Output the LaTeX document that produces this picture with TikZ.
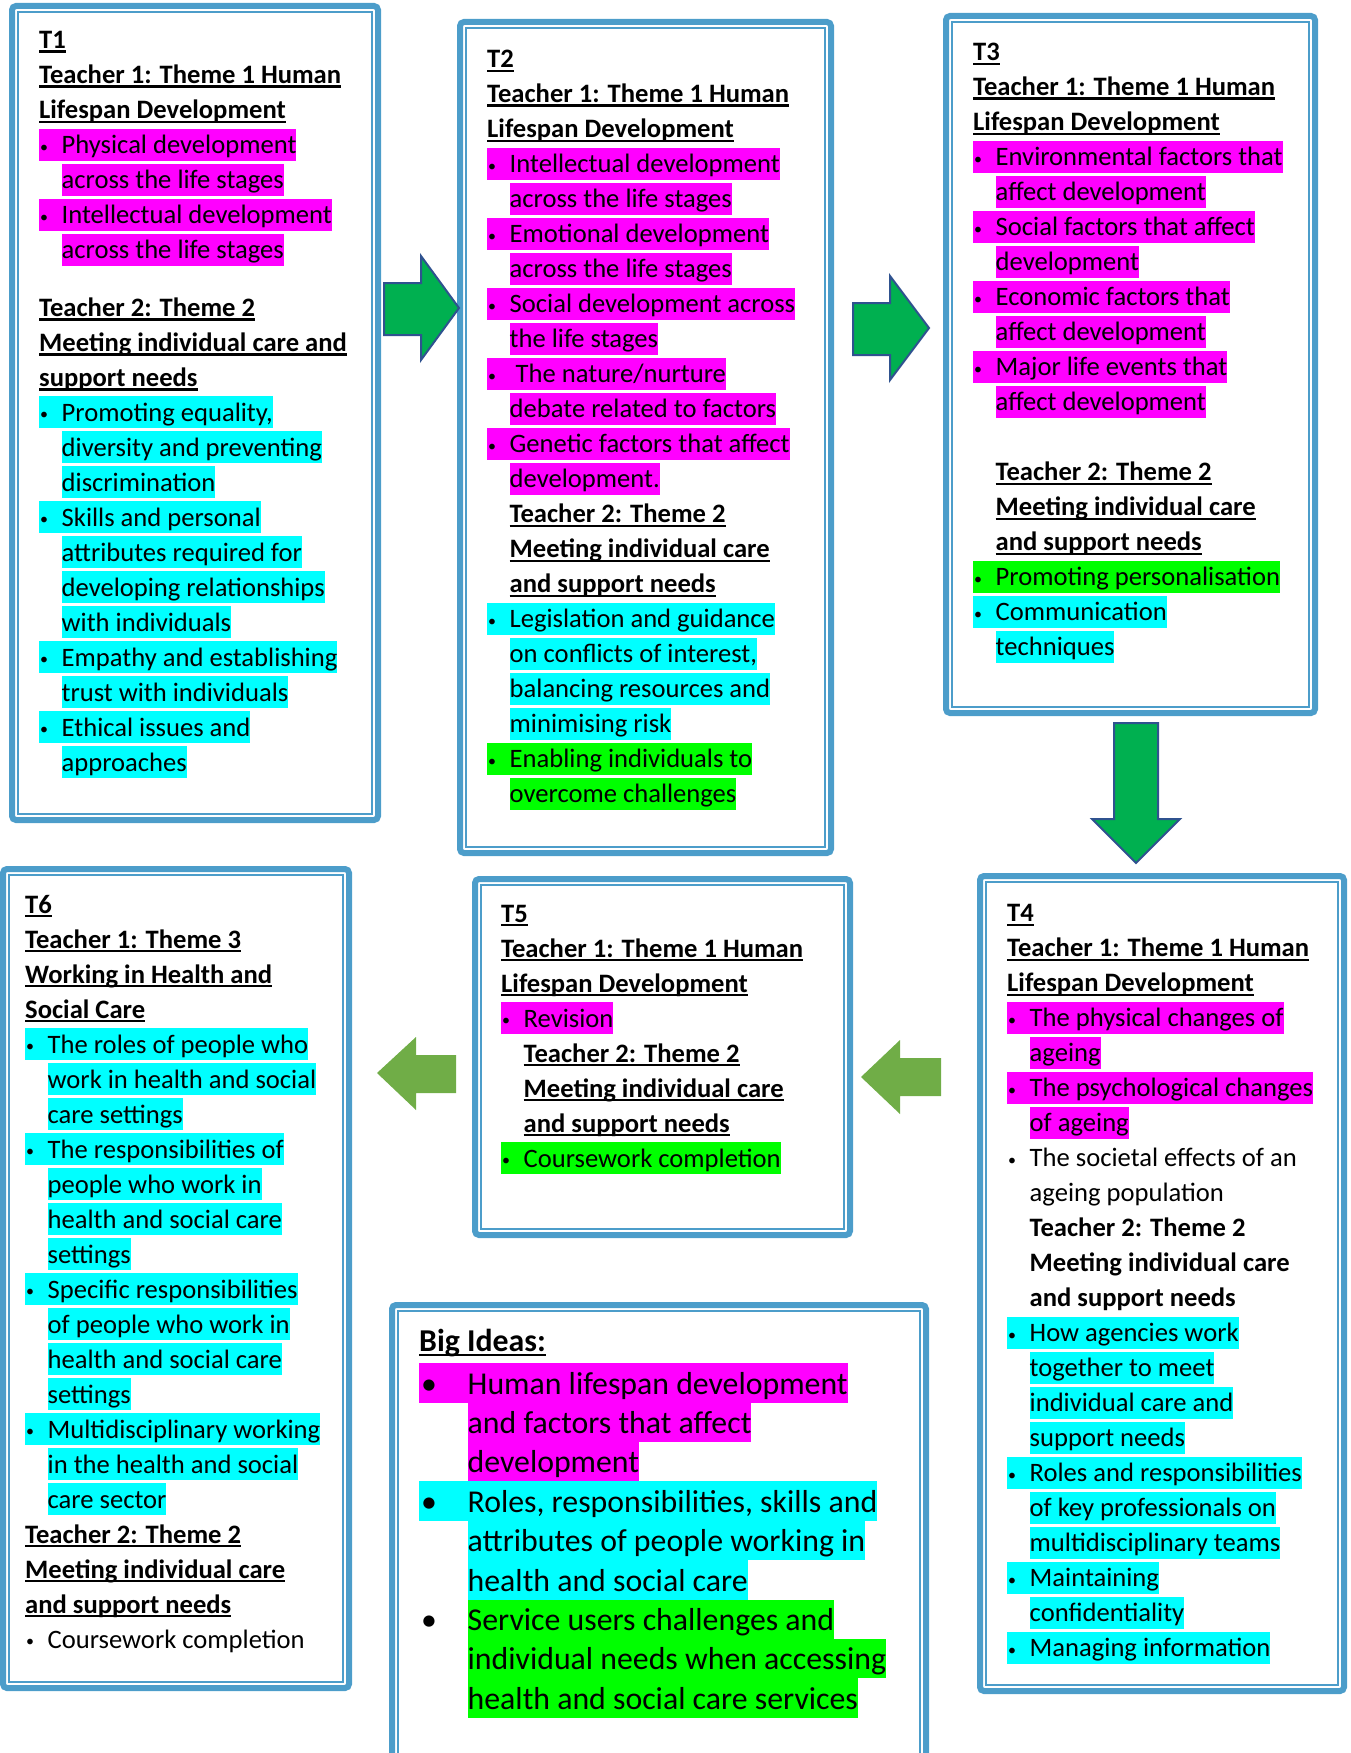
\documentclass[tikz,border=0pt]{standalone}
\usepackage{fontspec}
\setmainfont{Carlito}
\usepackage{tikz}

\definecolor{boxblue}{RGB}{76,157,202}
\definecolor{arrgreen}{RGB}{0,176,80}
\definecolor{arrblue}{RGB}{47,82,143}
\definecolor{arrolive}{RGB}{112,173,71}
\definecolor{hlpink}{RGB}{255,0,255}
\definecolor{hlcyan}{RGB}{0,255,255}
\definecolor{hlgreen}{RGB}{0,255,0}

\newcommand\body{\fontsize{26.6pt}{35pt}\selectfont}
\newcommand\bigfont{\fontsize{31.8pt}{39.4pt}\selectfont}
\newcommand\bul{\makebox[22.5pt][l]{\hspace{1pt}\raisebox{1.5pt}{\scalebox{0.6}{\textbullet}}}}
\newcommand\bigbul{\makebox[48.5pt][l]{\hspace{2pt}\textbullet}}
\newcommand\undl[1]{\setbox0\hbox{#1}\rlap{\vrule width\wd0 height -2pt depth 4.4pt}\box0}
\newcommand\tbox[4]{%
  \draw[outerln] (#1+3,#2+3) rectangle (#3-3,#4-3);
  \draw[innerln] (#1+9,#2+9) rectangle (#3-9,#4-9);}

\tikzset{
  outerln/.style={draw=boxblue, line width=6pt, rounded corners=4pt},
  innerln/.style={draw=boxblue, line width=1.5pt},
  garrow/.style={fill=arrgreen, draw=arrblue, line width=2pt, line join=miter},
  oarrow/.style={fill=arrolive},
  ln/.style={anchor=base west, inner sep=0pt, text height=25pt, text depth=7pt, font=\body},
  hd/.style={ln, font=\body\bfseries},
  pk/.style={ln, fill=hlpink},
  cy/.style={ln, fill=hlcyan},
  gr/.style={ln, fill=hlgreen},
  bln/.style={anchor=base west, inner sep=0pt, text height=30.8pt, text depth=8.6pt, font=\bigfont},
}

\begin{document}
\begin{tikzpicture}[x=1pt, y=-1pt]
  \useasboundingbox (0,0) rectangle (1351,1753);
  \clip (0,0) rectangle (1351,1753);

  % frames
  \tbox{9}{3}{381}{823}
  \tbox{457}{19}{834}{856}
  \tbox{943}{13}{1318}{716}
  \tbox{977}{873}{1347}{1694}
  \tbox{472}{876}{853}{1238}
  \tbox{0}{866}{352}{1691}
  \tbox{389}{1302}{929}{1790}

  % block arrows
  \draw[garrow] (384,283) -- (421,283) -- (421,256) -- (459,308) -- (421,360) -- (421,335) -- (384,335) -- cycle;
  \draw[garrow] (853,303) -- (890,303) -- (890,276) -- (929,328) -- (890,380) -- (890,355) -- (853,355) -- cycle;
  \draw[garrow] (1114,723) -- (1158,723) -- (1158,819) -- (1180,819) -- (1136,863) -- (1092,819) -- (1114,819) -- cycle;
  \fill[oarrow] (456,1055) -- (416,1055) -- (416,1037) -- (377,1073) -- (416,1110) -- (416,1093) -- (456,1093) -- cycle;
  \fill[oarrow] (941,1058) -- (900,1058) -- (900,1040) -- (861,1077) -- (900,1114) -- (900,1096) -- (941,1096) -- cycle;

  % T1
  \begin{scope}[shift={(39,48.5)}, y=-35pt]
    \node[hd] (t1l0) at (0,0) {\undl{T1}};
    \node[hd] (t1l1) at (0,1) {\undl{Teacher 1: Theme 1 Human}};
    \node[hd] (t1l2) at (0,2) {\undl{Lifespan Development}};
    \node[pk] (t1l3) at (0,3) {\bul Physical development};
    \node[pk] (t1l4) at (22.5,4) {across the life stages};
    \node[pk] (t1l5) at (0,5) {\bul Intellectual development};
    \node[pk] (t1l6) at (22.5,6) {across the life stages};
    \node[hd] (t1l7) at (0,7.65) {\undl{Teacher 2: Theme 2}};
    \node[hd] (t1l8) at (0,8.65) {\undl{Meeting individual care and}};
    \node[hd] (t1l9) at (0,9.65) {\undl{support needs}};
    \node[cy] (t1l10) at (0,10.65) {\bul Promoting equality,};
    \node[cy] (t1l11) at (22.5,11.65) {diversity and preventing};
    \node[cy] (t1l12) at (22.5,12.65) {discrimination};
    \node[cy] (t1l13) at (0,13.65) {\bul Skills and personal};
    \node[cy] (t1l14) at (22.5,14.65) {attributes required for};
    \node[cy] (t1l15) at (22.5,15.65) {developing relationships};
    \node[cy] (t1l16) at (22.5,16.65) {with individuals};
    \node[cy] (t1l17) at (0,17.65) {\bul Empathy and establishing};
    \node[cy] (t1l18) at (22.5,18.65) {trust with individuals};
    \node[cy] (t1l19) at (0,19.65) {\bul Ethical issues and};
    \node[cy] (t1l20) at (22.5,20.65) {approaches};
  \end{scope}

  % T2
  \begin{scope}[shift={(487,67.5)}, y=-35pt]
    \node[hd] (t2l0) at (0,0) {\undl{T2}};
    \node[hd] (t2l1) at (0,1) {\undl{Teacher 1: Theme 1 Human}};
    \node[hd] (t2l2) at (0,2) {\undl{Lifespan Development}};
    \node[pk] (t2l3) at (0,3) {\bul Intellectual development};
    \node[pk] (t2l4) at (22.5,4) {across the life stages};
    \node[pk] (t2l5) at (0,5) {\bul Emotional development};
    \node[pk] (t2l6) at (22.5,6) {across the life stages};
    \node[pk] (t2l7) at (0,7) {\bul Social development across};
    \node[pk] (t2l8) at (22.5,8) {the life stages};
    \node[pk] (t2l9) at (0,9) {\bul\ The nature/nurture};
    \node[pk] (t2l10) at (22.5,10) {debate related to factors};
    \node[pk] (t2l11) at (0,11) {\bul Genetic factors that affect};
    \node[pk] (t2l12) at (22.5,12) {development.};
    \node[hd] (t2l13) at (22.5,13) {\undl{Teacher 2: Theme 2}};
    \node[hd] (t2l14) at (22.5,14) {\undl{Meeting individual care}};
    \node[hd] (t2l15) at (22.5,15) {\undl{and support needs}};
    \node[cy] (t2l16) at (0,16) {\bul Legislation and guidance};
    \node[cy] (t2l17) at (22.5,17) {on conflicts of interest,};
    \node[cy] (t2l18) at (22.5,18) {balancing resources and};
    \node[cy] (t2l19) at (22.5,19) {minimising risk};
    \node[gr] (t2l20) at (0,20) {\bul Enabling individuals to};
    \node[gr] (t2l21) at (22.5,21) {overcome challenges};
  \end{scope}

  % T3
  \begin{scope}[shift={(973,60.5)}, y=-35pt]
    \node[hd] (t3l0) at (0,0) {\undl{T3}};
    \node[hd] (t3l1) at (0,1) {\undl{Teacher 1: Theme 1 Human}};
    \node[hd] (t3l2) at (0,2) {\undl{Lifespan Development}};
    \node[pk] (t3l3) at (0,3) {\bul Environmental factors that};
    \node[pk] (t3l4) at (22.5,4) {affect development};
    \node[pk] (t3l5) at (0,5) {\bul Social factors that affect};
    \node[pk] (t3l6) at (22.5,6) {development};
    \node[pk] (t3l7) at (0,7) {\bul Economic factors that};
    \node[pk] (t3l8) at (22.5,8) {affect development};
    \node[pk] (t3l9) at (0,9) {\bul Major life events that};
    \node[pk] (t3l10) at (22.5,10) {affect development};
    \node[hd] (t3l12) at (22.5,12) {\undl{Teacher 2: Theme 2}};
    \node[hd] (t3l13) at (22.5,13) {\undl{Meeting individual care}};
    \node[hd] (t3l14) at (22.5,14) {\undl{and support needs}};
    \node[gr] (t3l15) at (0,15) {\bul Promoting personalisation};
    \node[cy] (t3l16) at (0,16) {\bul Communication};
    \node[cy] (t3l17) at (22.5,17) {techniques};
  \end{scope}

  % T4
  \begin{scope}[shift={(1007,921.5)}, y=-35pt]
    \node[hd] (t4l0) at (0,0) {\undl{T4}};
    \node[hd] (t4l1) at (0,1) {\undl{Teacher 1: Theme 1 Human}};
    \node[hd] (t4l2) at (0,2) {\undl{Lifespan Development}};
    \node[pk] (t4l3) at (0,3) {\bul The physical changes of};
    \node[pk] (t4l4) at (22.5,4) {ageing};
    \node[pk] (t4l5) at (0,5) {\bul The psychological changes};
    \node[pk] (t4l6) at (22.5,6) {of ageing};
    \node[ln] (t4l7) at (0,7) {\bul The societal effects of an};
    \node[ln] (t4l8) at (22.5,8) {ageing population};
    \node[hd] (t4l9) at (22.5,9) {Teacher 2: Theme 2};
    \node[hd] (t4l10) at (22.5,10) {Meeting individual care};
    \node[hd] (t4l11) at (22.5,11) {and support needs};
    \node[cy] (t4l12) at (0,12) {\bul How agencies work};
    \node[cy] (t4l13) at (22.5,13) {together to meet};
    \node[cy] (t4l14) at (22.5,14) {individual care and};
    \node[cy] (t4l15) at (22.5,15) {support needs};
    \node[cy] (t4l16) at (0,16) {\bul Roles and responsibilities};
    \node[cy] (t4l17) at (22.5,17) {of key professionals on};
    \node[cy] (t4l18) at (22.5,18) {multidisciplinary teams};
    \node[cy] (t4l19) at (0,19) {\bul Maintaining};
    \node[cy] (t4l20) at (22.5,20) {confidentiality};
    \node[cy] (t4l21) at (0,21) {\bul Managing information};
  \end{scope}

  % T5
  \begin{scope}[shift={(501,922)}, y=-35pt]
    \node[hd] (t5l0) at (0,0) {\undl{T5}};
    \node[hd] (t5l1) at (0,1) {\undl{Teacher 1: Theme 1 Human}};
    \node[hd] (t5l2) at (0,2) {\undl{Lifespan Development}};
    \node[pk] (t5l3) at (0,3) {\bul Revision};
    \node[hd] (t5l4) at (22.5,4) {\undl{Teacher 2: Theme 2}};
    \node[hd] (t5l5) at (22.5,5) {\undl{Meeting individual care}};
    \node[hd] (t5l6) at (22.5,6) {\undl{and support needs}};
    \node[gr] (t5l7) at (0,7) {\bul Coursework completion};
  \end{scope}

  % T6
  \begin{scope}[shift={(25,913)}, y=-35pt]
    \node[hd] (t6l0) at (0,0) {\undl{T6}};
    \node[hd] (t6l1) at (0,1) {\undl{Teacher 1: Theme 3}};
    \node[hd] (t6l2) at (0,2) {\undl{Working in Health and}};
    \node[hd] (t6l3) at (0,3) {\undl{Social Care}};
    \node[cy] (t6l4) at (0,4) {\bul The roles of people who};
    \node[cy] (t6l5) at (22.5,5) {work in health and social};
    \node[cy] (t6l6) at (22.5,6) {care settings};
    \node[cy] (t6l7) at (0,7) {\bul The responsibilities of};
    \node[cy] (t6l8) at (22.5,8) {people who work in};
    \node[cy] (t6l9) at (22.5,9) {health and social care};
    \node[cy] (t6l10) at (22.5,10) {settings};
    \node[cy] (t6l11) at (0,11) {\bul Specific responsibilities};
    \node[cy] (t6l12) at (22.5,12) {of people who work in};
    \node[cy] (t6l13) at (22.5,13) {health and social care};
    \node[cy] (t6l14) at (22.5,14) {settings};
    \node[cy] (t6l15) at (0,15) {\bul Multidisciplinary working};
    \node[cy] (t6l16) at (22.5,16) {in the health and social};
    \node[cy] (t6l17) at (22.5,17) {care sector};
    \node[hd] (t6l18) at (0,18) {\undl{Teacher 2: Theme 2}};
    \node[hd] (t6l19) at (0,19) {\undl{Meeting individual care}};
    \node[hd] (t6l20) at (0,20) {\undl{and support needs}};
    \node[ln] (t6l21) at (0,21) {\bul Coursework completion};
  \end{scope}

  % big ideas
  \begin{scope}[shift={(419,1394)}, y=-39.4pt]
    \node[bln, font=\bigfont\bfseries] (bil0) at (0,-1.07) {\undl{Big Ideas:}};
    \node[bln, fill=hlpink] (bil1) at (0,0) {\bigbul Human lifespan development};
    \node[bln, fill=hlpink] (bil2) at (48.5,1) {and factors that affect};
    \node[bln, fill=hlpink] (bil3) at (48.5,2) {development};
    \node[bln, fill=hlcyan] (bil4) at (0,3) {\bigbul Roles, responsibilities, skills and};
    \node[bln, fill=hlcyan] (bil5) at (48.5,4) {attributes of people working in};
    \node[bln, fill=hlcyan] (bil6) at (48.5,5) {health and social care};
    \node[bln] (bil7) at (0,6) {\bigbul};
    \node[bln, fill=hlgreen] (bil8) at (48.5,6) {Service users challenges and};
    \node[bln, fill=hlgreen] (bil9) at (48.5,7) {individual needs when accessing};
    \node[bln, fill=hlgreen] (bil10) at (48.5,8) {health and social care services};
  \end{scope}
\end{tikzpicture}
\end{document}
